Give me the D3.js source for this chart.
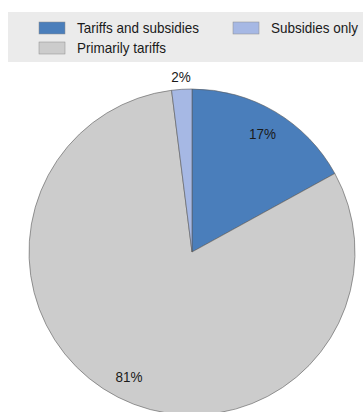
<!DOCTYPE html>
<html>
<head>
<meta charset="utf-8">
<script src="https://cdn.jsdelivr.net/npm/d3@7"></script>
<style>
  html, body { margin: 0; padding: 0; background: #fff; }
  svg { display: block; font-family: "Liberation Sans", Arial, sans-serif; }
</style>
</head>
<body>
<svg id="chart" width="363" height="412"></svg>
<script>
// Share of support schemes by type (percent)
const categories = ["Tariffs and subsidies", "Primarily tariffs", "Subsidies only"];
const shares = [17, 81, 2];
const colors = ["#4a7ebb", "#cccccc", "#a6b8e4"];
const labels = ["17%", "81%", "2%"];

const svg = d3.select("#chart");
const W = 363, H = 412;
const FS = 15, SQUEEZE = 0.9; // slightly condensed lettering

// Legend panel
const legend = svg.append("g");
legend.append("rect")
  .attr("x", 8).attr("y", 12).attr("width", W - 8).attr("height", 50)
  .attr("fill", "#ebebeb");

const legendItems = [
  { i: 0, x: 39, y: 22 },
  { i: 2, x: 233, y: 22 },
  { i: 1, x: 39, y: 42 }
];
legendItems.forEach(d => {
  legend.append("rect")
    .attr("x", d.x).attr("y", d.y).attr("width", 26).attr("height", 12)
    .attr("fill", colors[d.i]).attr("stroke", "#8c8c8c").attr("stroke-width", 0.5);
  legend.append("text")
    .attr("transform", `translate(${d.x + 38},${d.y + 6}) scale(${SQUEEZE},1)`)
    .attr("dominant-baseline", "central")
    .attr("font-size", FS).attr("fill", "#1a1a1a")
    .text(categories[d.i]);
});

// Pie
const cx = 192, cy = 252, R = 163;
const pie = d3.pie().sort(null).value(d => d);
const arcs = pie(shares);
const arc = d3.arc().innerRadius(0).outerRadius(R);
const labelArc = d3.arc().innerRadius(R * 0.85).outerRadius(R * 0.85);
const outerArc = d3.arc().innerRadius(R + 14).outerRadius(R + 14);

const g = svg.append("g").attr("transform", `translate(${cx},${cy})`);
g.selectAll("path.slice")
  .data(arcs)
  .join("path")
  .attr("class", "slice")
  .attr("d", arc)
  .attr("fill", (d, i) => colors[i])
  .attr("stroke", "#5a5a5a")
  .attr("stroke-width", 0.6);

g.selectAll("text.lbl")
  .data(arcs)
  .join("text")
  .attr("class", "lbl")
  .attr("transform", (d, i) => {
    const p = (d.endAngle - d.startAngle) < 0.3 ? outerArc.centroid(d) : labelArc.centroid(d);
    return `translate(${p[0]},${p[1] + 1}) scale(${SQUEEZE},1)`;
  })
  .attr("text-anchor", "middle")
  .attr("dominant-baseline", "central")
  .attr("font-size", FS)
  .attr("fill", "#1a1a1a")
  .text((d, i) => labels[i]);
</script>
</body>
</html>
